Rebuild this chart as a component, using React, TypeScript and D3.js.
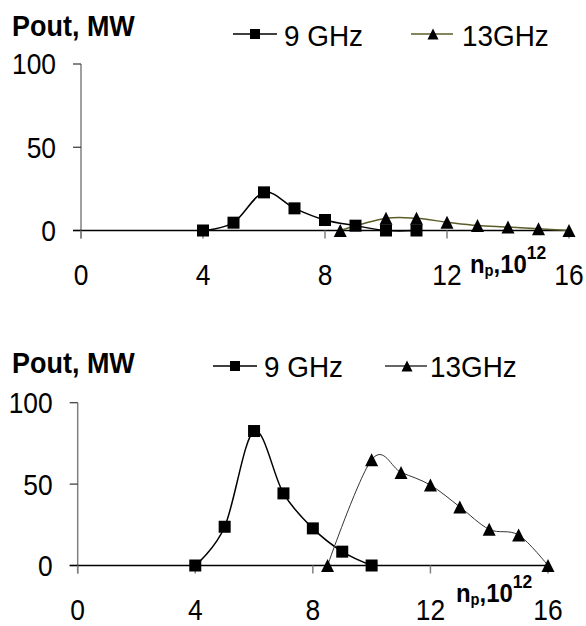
import React from "react";
import * as d3 from "d3";

const xTicks = [0, 4, 8, 12, 16];
const yTicks = [0, 50, 100];
const seriesNames = ["9 GHz", "13GHz"];
const yTitle = "Pout, MW";

// Top chart
const top9x = [4, 5, 6, 7, 8, 9, 10, 11];
const top9y = [0, 4.7, 22.9, 13.3, 6.3, 2.9, 0, 0];
const top13x = [8.5, 10, 11, 12, 13, 14, 15, 16];
const top13y = [0, 7.3, 7.3, 5, 3, 2.1, 1, 0];

// Bottom chart
const bot9x = [4, 5, 6, 7, 8, 9, 10];
const bot9y = [0, 23.8, 82.6, 44.3, 22.8, 8.5, 0];
const bot13x = [8.5, 10, 11, 12, 13, 14, 15, 16];
const bot13y = [0, 65, 57.2, 49.4, 36, 22.2, 18.7, 0];

type Layout = {
  x0: number; x16: number; y0: number; y100: number;
  titleY: number; legY: number; legTextY: number;
  leg1: number; leg2: number; legText1: number; legText2: number;
  xLabelY: number; npY: number; npX: number;
  c13: string; w13: number;
  s9: number[][]; s13: number[][];
};

const font = "'Liberation Sans', Arial, sans-serif";
const SX = 0.91;

function tri(cx: number, cy: number, s: number) {
  const h = s / 2;
  return `M${cx},${cy - h}L${cx + h},${cy + h}L${cx - h},${cy + h}Z`;
}

function T({ x, y, size, anchor, bold, sx, children }: any) {
  return (
    <text
      transform={`translate(${x},${y}) scale(${sx ?? SX},1)`}
      fontSize={size}
      textAnchor={anchor || "start"}
      fontWeight={bold ? "bold" : "normal"}
    >
      {children}
    </text>
  );
}

function Chart({ L }: { L: Layout }) {
  const x = d3.scaleLinear().domain([0, 16]).range([L.x0, L.x16]);
  const y = d3.scaleLinear().domain([0, 100]).range([L.y0, L.y100]);
  const line = d3
    .line<number[]>()
    .x((d) => x(d[0]))
    .y((d) => y(d[1]))
    .curve(d3.curveCardinal.tension(0));
  return (
    <g fontFamily={font}>
      <T x={12} y={L.titleY} size={29} bold sx={0.93}>{yTitle}</T>
      {/* legend */}
      <line x1={L.leg1 - 22} x2={L.leg1 + 22} y1={L.legY} y2={L.legY} stroke="#000" strokeWidth={1.5} />
      <rect x={L.leg1 - 5} y={L.legY - 5} width={10} height={10} fill="#000" />
      <T x={L.legText1} y={L.legTextY} size={30} sx={0.93}>{seriesNames[0]}</T>
      <line x1={L.leg2 - 22} x2={L.leg2 + 20} y1={L.legY} y2={L.legY} stroke={L.c13} strokeWidth={1.5} />
      <path d={tri(L.leg2, L.legY, 11)} fill="#000" />
      <T x={L.legText2} y={L.legTextY} size={30} sx={0.93}>{seriesNames[1]}</T>
      {/* axes */}
      <line x1={x(0)} x2={x(0)} y1={y(100)} y2={y(0) + 8} stroke="#808080" strokeWidth={1.5} />
      {yTicks.map((t) => (
        <g key={"y" + t}>
          <line x1={x(0) - 8} x2={x(0)} y1={y(t)} y2={y(t)} stroke="#333" strokeWidth={1.2} />
          <T x={x(0) - 25} y={y(t) + 10.4} size={29} anchor="end">{t}</T>
        </g>
      ))}
      <line x1={x(0) - 8} x2={x(16)} y1={y(0)} y2={y(0)} stroke="#000" strokeWidth={1.5} />
      {xTicks.map((t) => (
        <g key={"x" + t}>
          <line x1={x(t)} x2={x(t)} y1={y(0)} y2={y(0) + 8} stroke="#808080" strokeWidth={1.5} />
          <T x={x(t)} y={L.xLabelY} size={29} anchor="middle">{t}</T>
        </g>
      ))}
      <text
        transform={`translate(${L.npX},${L.npY}) scale(0.92,1)`}
        fontSize={26}
        fontWeight="bold"
      >
        n<tspan fontSize={16} dy={3}>p</tspan><tspan dy={-3}>,10</tspan><tspan fontSize={19} dy={-14}>12</tspan>
      </text>
      {/* series */}
      <path d={line(L.s9) || ""} fill="none" stroke="#000" strokeWidth={1.5} />
      <path d={line(L.s13) || ""} fill="none" stroke={L.c13} strokeWidth={L.w13} />
      {L.s9.map((d, i) => (
        <rect key={"s" + i} x={x(d[0]) - 6} y={y(d[1]) - 6} width={12} height={12} fill="#000" />
      ))}
      {L.s13.map((d, i) => (
        <path key={"t" + i} d={tri(x(d[0]), y(d[1]), 13)} fill="#000" />
      ))}
    </g>
  );
}

const zip = (a: number[], b: number[]) => a.map((v, i) => [v, b[i]]);

export default function App() {
  const topL: Layout = {
    x0: 81, x16: 569, y0: 230.5, y100: 64,
    titleY: 36, legY: 34, legTextY: 46,
    leg1: 255, leg2: 433, legText1: 284, legText2: 462,
    xLabelY: 285, npY: 273, npX: 470,
    c13: "#5c5c28", w13: 1.5,
    s9: zip(top9x, top9y), s13: zip(top13x, top13y),
  };
  const botL: Layout = {
    x0: 77.7, x16: 548, y0: 565.5, y100: 402.7,
    titleY: 373, legY: 366, legTextY: 377,
    leg1: 235, leg2: 407, legText1: 264, legText2: 430,
    xLabelY: 620, npY: 602, npX: 456,
    c13: "#333", w13: 1,
    s9: zip(bot9x, bot9y), s13: zip(bot13x, bot13y),
  };
  return (
    <svg width={586} height={626} style={{ position: "absolute", left: 0, top: 0, background: "#fff" }}>
      <rect width={586} height={626} fill="#fff" />
      <Chart L={topL} />
      <Chart L={botL} />
    </svg>
  );
}
